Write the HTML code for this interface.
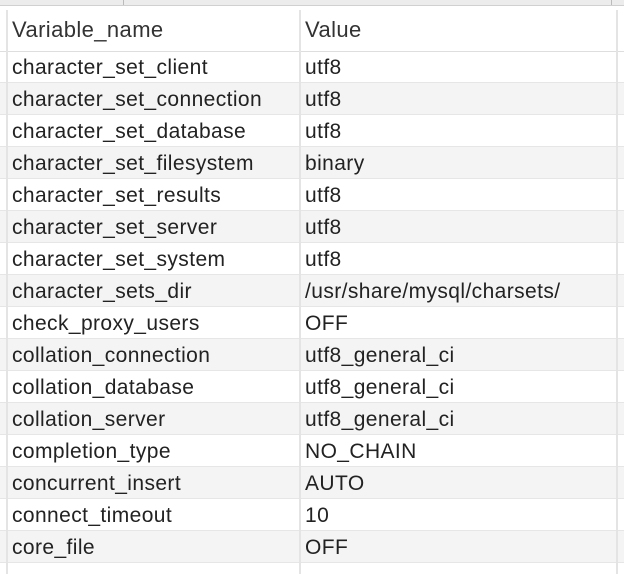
<!DOCTYPE html>
<html><head><style>
body{margin:0;width:624px;height:574px;overflow:hidden;background:#fff;font-family:"Liberation Sans",Arial,sans-serif;color:#222;position:relative}
.top{position:absolute;left:0;top:0;width:624px;height:5px;background:#ececec;border-bottom:1px solid #d0d0d0}
.tick{position:absolute;top:0;width:1px;height:5px;background:#bbb}
.hdr{position:absolute;left:0;top:10px;width:624px;height:41px;background:#fff;border-bottom:1px solid #dedede;font-size:22px;letter-spacing:0.4px;color:#333}
.row{position:absolute;left:0;width:624px;height:32px;font-size:21px;letter-spacing:0.4px;line-height:34px;border-bottom:1px solid #e6e6e6;box-sizing:border-box}
.g{background:#f4f4f4}
.c1{position:absolute;left:12px}
.c2{position:absolute;left:305px}
.vl{position:absolute;width:2px;background:#e4e4e4}
</style></head><body>
<div class="top"></div>
<div class="tick" style="left:123px"></div>
<div class="tick" style="left:611px"></div>
<div class="hdr"><span class="c1" style="top:7px">Variable_name</span><span class="c2" style="top:7px">Value</span></div>
<div class="row" style="top:51px"><span class="c1">character_set_client</span><span class="c2">utf8</span></div>
<div class="row g" style="top:83px"><span class="c1">character_set_connection</span><span class="c2">utf8</span></div>
<div class="row" style="top:115px"><span class="c1">character_set_database</span><span class="c2">utf8</span></div>
<div class="row g" style="top:147px"><span class="c1">character_set_filesystem</span><span class="c2">binary</span></div>
<div class="row" style="top:179px"><span class="c1">character_set_results</span><span class="c2">utf8</span></div>
<div class="row g" style="top:211px"><span class="c1">character_set_server</span><span class="c2">utf8</span></div>
<div class="row" style="top:243px"><span class="c1">character_set_system</span><span class="c2">utf8</span></div>
<div class="row g" style="top:275px"><span class="c1">character_sets_dir</span><span class="c2">/usr/share/mysql/charsets/</span></div>
<div class="row" style="top:307px"><span class="c1">check_proxy_users</span><span class="c2">OFF</span></div>
<div class="row g" style="top:339px"><span class="c1">collation_connection</span><span class="c2">utf8_general_ci</span></div>
<div class="row" style="top:371px"><span class="c1">collation_database</span><span class="c2">utf8_general_ci</span></div>
<div class="row g" style="top:403px"><span class="c1">collation_server</span><span class="c2">utf8_general_ci</span></div>
<div class="row" style="top:435px"><span class="c1">completion_type</span><span class="c2">NO_CHAIN</span></div>
<div class="row g" style="top:467px"><span class="c1">concurrent_insert</span><span class="c2">AUTO</span></div>
<div class="row" style="top:499px"><span class="c1">connect_timeout</span><span class="c2">10</span></div>
<div class="row g" style="top:531px"><span class="c1">core_file</span><span class="c2">OFF</span></div>
<div class="vl" style="left:6px;top:10px;height:564px"></div>
<div class="vl" style="left:299px;top:10px;height:564px"></div>
<div class="vl" style="left:616px;top:10px;height:564px"></div>
</body></html>
